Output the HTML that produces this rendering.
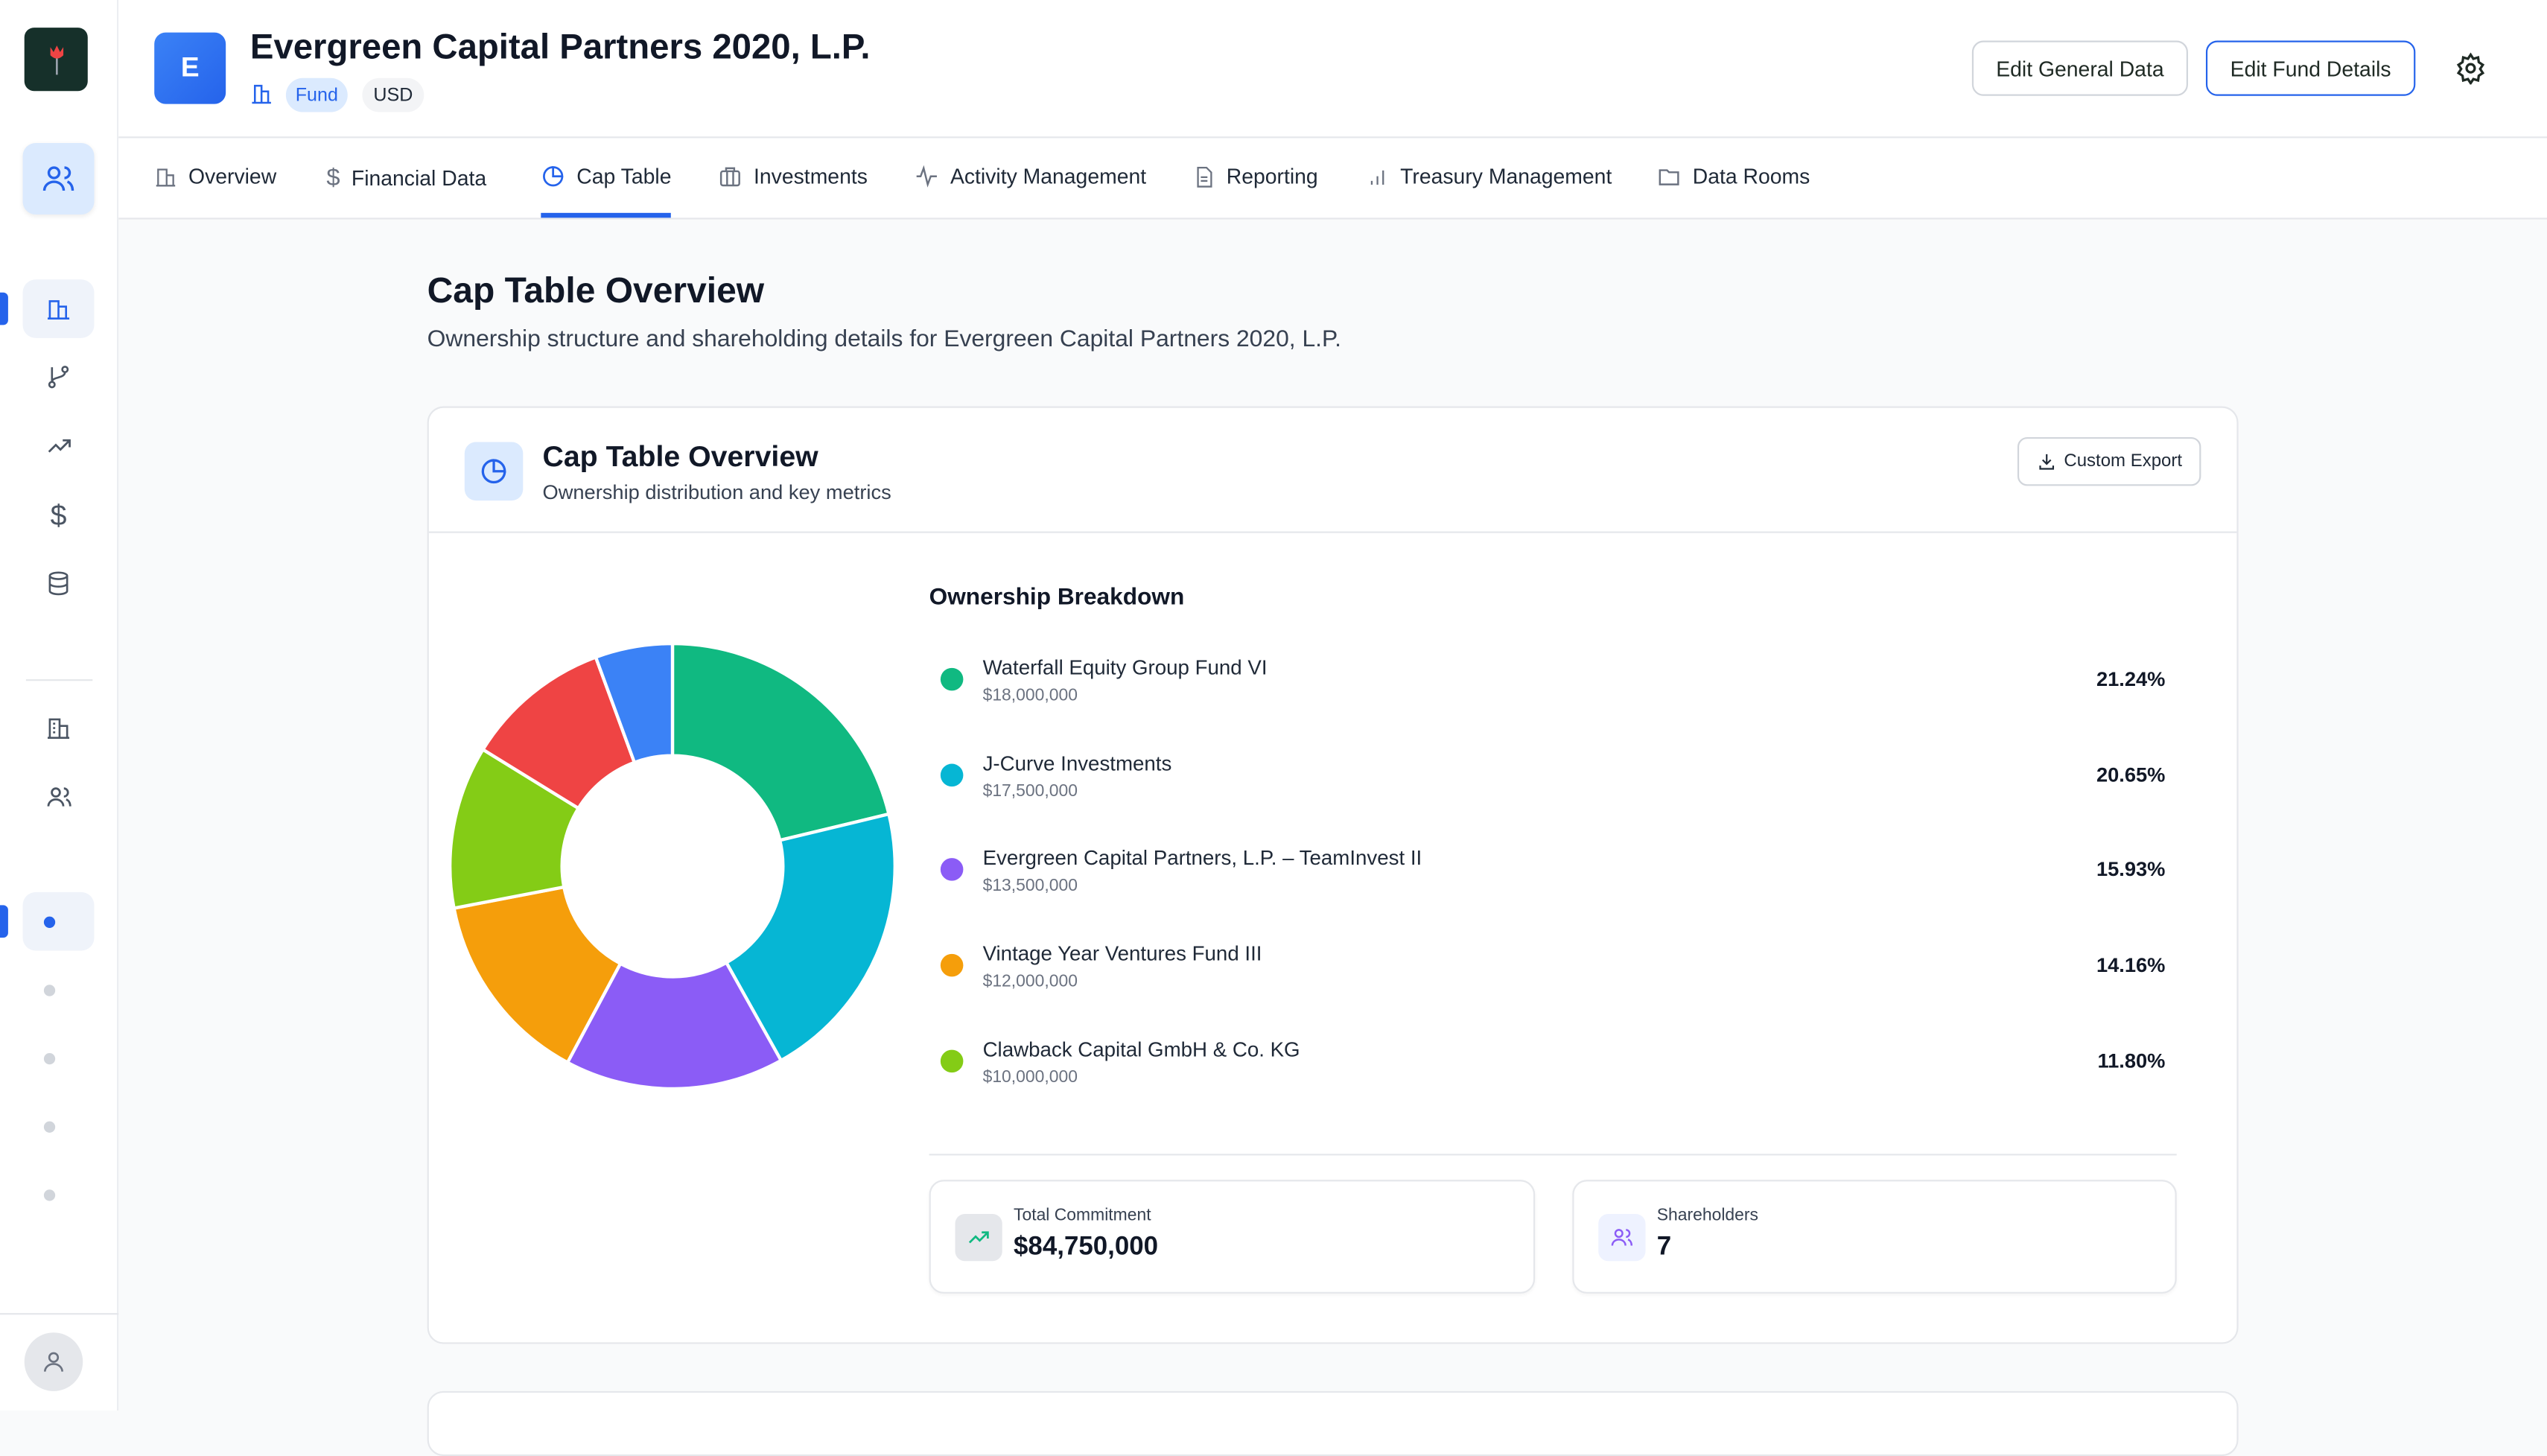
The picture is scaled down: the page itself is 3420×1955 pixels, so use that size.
<!DOCTYPE html>
<html><head><meta charset="utf-8">
<style>
*{box-sizing:border-box;margin:0;padding:0}
html,body{width:3420px;height:1894px;overflow:hidden;background:#f9fafb;font-family:"Liberation Sans",Arial,sans-serif;color:#111827}
#root{position:absolute;left:0;top:0;width:1568px;height:868px;transform:scale(2.18112,2.18203);transform-origin:0 0;background:#f9fafb}
.abs{position:absolute}
.side{left:0;top:0;width:73px;height:868px;background:#fff;border-right:1px solid #eceef1}
.sicon{position:absolute;left:14px;width:44px;height:36px;display:flex;align-items:center;justify-content:center;border-radius:8px}
.hdr{left:73px;top:0;width:1495px;height:85px;background:#fff;border-bottom:1px solid #e5e7eb}
.tabs{left:73px;top:85px;width:1495px;height:50px;background:#fff;border-bottom:1px solid #e5e7eb}
.tab{position:absolute;top:16px;font-size:13px;color:#1f2937;display:flex;align-items:center;gap:7px}
.btn{position:absolute;top:25px;height:34px;border-radius:7px;background:#fff;font-size:13px;display:flex;align-items:center;justify-content:center;color:#1f2a24}
.card{left:263px;top:250px;width:1115px;height:577px;background:#fff;border:1px solid #e5e7eb;border-radius:10px}
.row{position:absolute;left:578px;width:760px;height:40px}
.dot{position:absolute;left:1px;top:0px;width:14px;height:14px;border-radius:50%}
.nm{position:absolute;left:27px;top:-7px;font-size:12.7px;color:#1f2937;white-space:nowrap}
.amt{position:absolute;left:27px;top:11px;font-size:10.5px;color:#6b7280}
.pct{position:absolute;right:5px;top:0px;font-size:12.5px;font-weight:bold;color:#111827}
.stat{position:absolute;top:726px;width:373px;height:70px;border:1px solid #e5e7eb;border-radius:9px;background:#fff;box-shadow:0 1px 2px rgba(0,0,0,.04)}
</style></head><body>
<div id="root">
 <div class="abs side">
  <div class="abs" style="left:15px;top:17px;width:39px;height:39px;border-radius:6px;background:#16302a;display:flex;align-items:center;justify-content:center">
   <svg width="16" height="22" viewBox="0 0 16 22"><path d="M4 3 L6 6 L8 2 L10 6 L12 3 L12 8 Q8 12 4 8Z" fill="#ef4444"/><path d="M8 10 L8 20" stroke="#9ca3af" stroke-width="1.2"/></svg>
  </div>
  <div class="sicon" style="top:88px;height:44px;background:#dbeafe;box-shadow:0 1px 3px rgba(0,0,0,.08)">
   <svg width="22" height="22" viewBox="0 0 24 24" fill="none" stroke="#2563eb" stroke-width="1.7"><circle cx="9" cy="8" r="3.5"/><path d="M2.5 20c0-3.5 3-6 6.5-6s6.5 2.5 6.5 6"/><path d="M16 4.5a3.5 3.5 0 0 1 0 7"/><path d="M18 14c2 .7 3.5 2.8 3.5 6"/></svg>
  </div>
  <div class="abs" style="left:0;top:180px;width:5px;height:20px;background:#2563eb;border-radius:0 3px 3px 0"></div>
  <div class="sicon" style="top:172px;background:#eff3fa"><svg width="16" height="16" viewBox="0 0 24 24" fill="none" stroke="#2563eb" stroke-width="1.8"><path d="M4 21V5h8v16M12 10h7v11M2 21h20"/></svg></div>
  <div class="sicon" style="top:214px"><svg width="16" height="16" viewBox="0 0 24 24" fill="none" stroke="#4b5563" stroke-width="1.8"><circle cx="6" cy="19" r="2.5"/><circle cx="18" cy="5" r="2.5"/><path d="M6 3v13.5M18 7.5c0 6-12 4-12 9"/></svg></div>
  <div class="sicon" style="top:256px"><svg width="17" height="17" viewBox="0 0 24 24" fill="none" stroke="#4b5563" stroke-width="1.8"><path d="M3 17l6-6 4 4 8-8M15 7h6v6"/></svg></div>
  <div class="sicon" style="top:299px;font-size:18px;color:#4b5563">$</div>
  <div class="sicon" style="top:341px"><svg width="16" height="16" viewBox="0 0 24 24" fill="none" stroke="#4b5563" stroke-width="1.8"><ellipse cx="12" cy="5" rx="8" ry="3"/><path d="M4 5v14c0 1.7 3.6 3 8 3s8-1.3 8-3V5M4 12c0 1.7 3.6 3 8 3s8-1.3 8-3"/></svg></div>
  <div class="abs" style="left:16px;top:418px;width:41px;height:1px;background:#e5e7eb"></div>
  <div class="sicon" style="top:430px"><svg width="16" height="16" viewBox="0 0 24 24" fill="none" stroke="#4b5563" stroke-width="1.8"><path d="M4 21V4h9v17M13 10h7v11M2 21h20M7 8h2M7 12h2M7 16h2"/></svg></div>
  <div class="sicon" style="top:472px"><svg width="17" height="17" viewBox="0 0 24 24" fill="none" stroke="#4b5563" stroke-width="1.8"><circle cx="9" cy="8" r="3.5"/><path d="M2.5 20c0-3.5 3-6 6.5-6s6.5 2.5 6.5 6"/><path d="M16 4.5a3.5 3.5 0 0 1 0 7M18 14c2 .7 3.5 2.8 3.5 6"/></svg></div>
  <div class="abs" style="left:0;top:557px;width:5px;height:20px;background:#2563eb;border-radius:0 3px 3px 0"></div>
  <div class="sicon" style="top:549px;background:#eff3fa"><div style="width:7px;height:7px;border-radius:50%;background:#2563eb;margin-left:-12px"></div></div>
  <div class="sicon" style="top:591px"><div style="width:7px;height:7px;border-radius:50%;background:#d1d5db;margin-left:-12px"></div></div>
  <div class="sicon" style="top:633px"><div style="width:7px;height:7px;border-radius:50%;background:#d1d5db;margin-left:-12px"></div></div>
  <div class="sicon" style="top:675px"><div style="width:7px;height:7px;border-radius:50%;background:#d1d5db;margin-left:-12px"></div></div>
  <div class="sicon" style="top:717px"><div style="width:7px;height:7px;border-radius:50%;background:#d1d5db;margin-left:-12px"></div></div>
  <div class="abs" style="left:0;top:808px;width:73px;height:1px;background:#e5e7eb"></div>
  <div class="abs" style="left:15px;top:820px;width:36px;height:36px;border-radius:50%;background:#e5e7eb;display:flex;align-items:center;justify-content:center"><svg width="16" height="16" viewBox="0 0 24 24" fill="none" stroke="#6b7280" stroke-width="1.8"><circle cx="12" cy="8" r="4"/><path d="M4 21c0-4 3.6-7 8-7s8 3 8 7"/></svg></div>
 </div>

 <div class="abs hdr">
  <div class="abs" style="left:22px;top:20px;width:44px;height:44px;border-radius:7px;background:linear-gradient(135deg,#3b82f6,#2563eb);color:#fff;font-weight:bold;font-size:17px;display:flex;align-items:center;justify-content:center">E</div>
  <div class="abs" style="left:81px;top:16px;font-size:21.7px;font-weight:bold;color:#111827;white-space:nowrap">Evergreen Capital Partners 2020, L.P.</div>
  <svg class="abs" style="left:81px;top:51px" width="14" height="14" viewBox="0 0 24 24" fill="none" stroke="#2563eb" stroke-width="2"><path d="M5 21V3h7v18M12 9h7v12M2 21h20"/></svg>
  <div class="abs" style="left:103px;top:48px;width:38px;height:21px;border-radius:11px;background:#dbeafe;color:#2563eb;font-size:11.5px;display:flex;align-items:center;justify-content:center">Fund</div>
  <div class="abs" style="left:150px;top:48px;width:38px;height:21px;border-radius:11px;background:#f3f4f6;color:#1f2937;font-size:11.5px;display:flex;align-items:center;justify-content:center">USD</div>
  <div class="btn" style="left:1141px;width:133px;border:1px solid #d1d5db">Edit General Data</div>
  <div class="btn" style="left:1285px;width:129px;border:1.3px solid #2563eb">Edit Fund Details</div>
  <svg class="abs" style="left:1438px;top:32px" width="20" height="20" viewBox="0 0 24 24" fill="none" stroke="#1f2a24" stroke-width="1.8"><circle cx="12" cy="12" r="3"/><path d="M12 2l2 3 3.5-1 .5 3.5 3 2-2 3 2 3-3 2-.5 3.5-3.5-1-2 3-2-3-3.5 1-.5-3.5-3-2 2-3-2-3 3-2 .5-3.5 3.5 1z"/></svg>
 </div>

 <div class="abs tabs">
  <div class="tab" style="left:22px"><svg width="14" height="14" viewBox="0 0 24 24" fill="none" stroke="#6b7280" stroke-width="1.8"><path d="M4 21V4h9v17M13 10h7v11M2 21h20"/></svg>Overview</div>
  <div class="tab" style="left:128px"><span style="color:#6b7280;font-size:15px">$</span>Financial Data</div>
  <div class="tab" style="left:260px"><svg width="15" height="15" viewBox="0 0 24 24" fill="none" stroke="#2563eb" stroke-width="2"><path d="M21 12A9 9 0 1 1 12 3"/><path d="M12 3a9 9 0 0 1 9 9h-9z"/></svg>Cap Table</div>
  <div class="abs" style="left:260px;top:46px;width:80px;height:3px;background:#2563eb"></div>
  <div class="tab" style="left:369px"><svg width="15" height="15" viewBox="0 0 24 24" fill="none" stroke="#6b7280" stroke-width="1.8"><rect x="3" y="7" width="18" height="14" rx="2"/><path d="M8 7V4h8v3M9 7v14M15 7v14"/></svg>Investments</div>
  <div class="tab" style="left:490px"><svg width="15" height="15" viewBox="0 0 24 24" fill="none" stroke="#6b7280" stroke-width="1.8"><path d="M2 12h4l3-8 4 16 3-8h6"/></svg>Activity Management</div>
  <div class="tab" style="left:661px"><svg width="14" height="14" viewBox="0 0 24 24" fill="none" stroke="#6b7280" stroke-width="1.8"><path d="M6 2h9l5 5v15H6z"/><path d="M9 12h7M9 16h7"/></svg>Reporting</div>
  <div class="tab" style="left:768px"><svg width="14" height="14" viewBox="0 0 24 24" fill="none" stroke="#6b7280" stroke-width="1.8"><path d="M6 20v-4M12 20v-9M18 20V5"/></svg>Treasury Management</div>
  <div class="tab" style="left:947px"><svg width="15" height="15" viewBox="0 0 24 24" fill="none" stroke="#6b7280" stroke-width="1.8"><path d="M3 6h7l2 2h9v12H3z"/></svg>Data Rooms</div>
 </div>

 <div class="abs" style="left:263px;top:166px;font-size:22px;font-weight:bold;color:#111827">Cap Table Overview</div>
 <div class="abs" style="left:263px;top:201px;font-size:14.6px;color:#374151">Ownership structure and shareholding details for Evergreen Capital Partners 2020, L.P.</div>

 <div class="abs card"></div>
 <div class="abs" style="left:264px;top:327px;width:1113px;height:1px;background:#e5e7eb"></div>
 <div class="abs" style="left:286px;top:272px;width:36px;height:36px;border-radius:7px;background:#dbeafe;display:flex;align-items:center;justify-content:center"><svg width="18" height="18" viewBox="0 0 24 24" fill="none" stroke="#2563eb" stroke-width="2"><path d="M21 12A9 9 0 1 1 12 3"/><path d="M12 3a9 9 0 0 1 9 9h-9z"/></svg></div>
 <div class="abs" style="left:334px;top:271px;font-size:18px;font-weight:bold">Cap Table Overview</div>
 <div class="abs" style="left:334px;top:296px;font-size:12.5px;color:#374151">Ownership distribution and key metrics</div>
 <div class="abs" style="left:1242px;top:269px;width:113px;height:30px;border:1px solid #d1d5db;border-radius:6px;font-size:11px;display:flex;align-items:center;justify-content:center;gap:5px;color:#1f2937"><svg width="12" height="12" viewBox="0 0 24 24" fill="none" stroke="#1f2937" stroke-width="2"><path d="M12 3v12M7 10l5 5 5-5M4 17v4h16v-4"/></svg>Custom Export</div>

 <svg class="abs" id="donut" style="left:0;top:0" width="1568" height="868"></svg>

 <div class="abs" style="left:572px;top:360px;font-size:14.5px;font-weight:bold">Ownership Breakdown</div>
 <div id="legend"></div>
 <div class="abs" style="left:572px;top:710px;width:768px;height:1px;background:#e5e7eb"></div>

 <div class="stat" style="left:572px">
  <div class="abs" style="left:15px;top:20px;width:29px;height:29px;border-radius:6px;background:#e5e7eb;display:flex;align-items:center;justify-content:center"><svg width="15" height="15" viewBox="0 0 24 24" fill="none" stroke="#10b981" stroke-width="2"><path d="M3 17l6-6 4 4 8-8M15 7h6v6"/></svg></div>
  <div class="abs" style="left:51px;top:15px;font-size:10.5px;color:#374151">Total Commitment</div>
  <div class="abs" id="total-value" style="left:51px;top:32px;font-size:16px;font-weight:bold">$84,750,000</div>
 </div>
 <div class="stat" style="left:968px;width:372px">
  <div class="abs" style="left:15px;top:20px;width:29px;height:29px;border-radius:6px;background:#eef2ff;display:flex;align-items:center;justify-content:center"><svg width="15" height="15" viewBox="0 0 24 24" fill="none" stroke="#8b5cf6" stroke-width="1.8"><circle cx="9" cy="8" r="3.5"/><path d="M2.5 20c0-3.5 3-6 6.5-6s6.5 2.5 6.5 6M16 4.5a3.5 3.5 0 0 1 0 7M18 14c2 .7 3.5 2.8 3.5 6"/></svg></div>
  <div class="abs" style="left:51px;top:15px;font-size:10.5px;color:#374151">Shareholders</div>
  <div class="abs" id="sh-count" style="left:51px;top:32px;font-size:16px;font-weight:bold">7</div>
 </div>

 <div class="abs" style="left:263px;top:856px;width:1115px;height:40px;background:#fff;border:1px solid #e5e7eb;border-radius:10px"></div>
</div>
<script>
const holders = ["Waterfall Equity Group Fund VI","J-Curve Investments","Evergreen Capital Partners, L.P. – TeamInvest II","Vintage Year Ventures Fund III","Clawback Capital GmbH & Co. KG","Other Holder A","Other Holder B"];
const commitments = [18000000,17500000,13500000,12000000,10000000,9000000,4750000];
const colors = ["#10b981","#06b6d4","#8b5cf6","#f59e0b","#84cc16","#ef4444","#3b82f6"];
const legendCount = 5;

const total = commitments.reduce((a,b)=>a+b,0);
const cx=414, cy=533, R=137, r=68;
const NS="http://www.w3.org/2000/svg";
const svg=document.getElementById('donut');
function pt(rad,a){return [cx+rad*Math.sin(a), cy-rad*Math.cos(a)];}
let acc=0;
commitments.forEach((v,i)=>{
  const a0=acc/total*2*Math.PI; acc+=v; const a1=acc/total*2*Math.PI;
  const large=(a1-a0)>Math.PI?1:0;
  const p0=pt(R,a0),p1=pt(R,a1),q1=pt(r,a1),q0=pt(r,a0);
  const p=document.createElementNS(NS,'path');
  p.setAttribute('d',`M${p0[0]} ${p0[1]} A${R} ${R} 0 ${large} 1 ${p1[0]} ${p1[1]} L${q1[0]} ${q1[1]} A${r} ${r} 0 ${large} 0 ${q0[0]} ${q0[1]}Z`);
  p.setAttribute('fill',colors[i]);p.setAttribute('stroke','#fff');p.setAttribute('stroke-width','2');p.setAttribute('stroke-linejoin','round');
  
  
  svg.appendChild(p);
});
const fmt=n=>'$'+n.toLocaleString('en-US');
const leg=document.getElementById('legend');
for(let i=0;i<legendCount;i++){
  const row=document.createElement('div');
  row.className='row';
  row.style.top=(411+i*58.7)+'px';
  
  
  row.innerHTML=`<div class="dot" style="background:${colors[i]}"></div><div class="nm">${holders[i]}</div><div class="amt">${fmt(commitments[i])}</div><div class="pct">${(commitments[i]/total*100).toFixed(2)}%</div>`;
  leg.appendChild(row);
}
document.getElementById('total-value').textContent=fmt(total);
document.getElementById('sh-count').textContent=commitments.length;
</script>
</body></html>
